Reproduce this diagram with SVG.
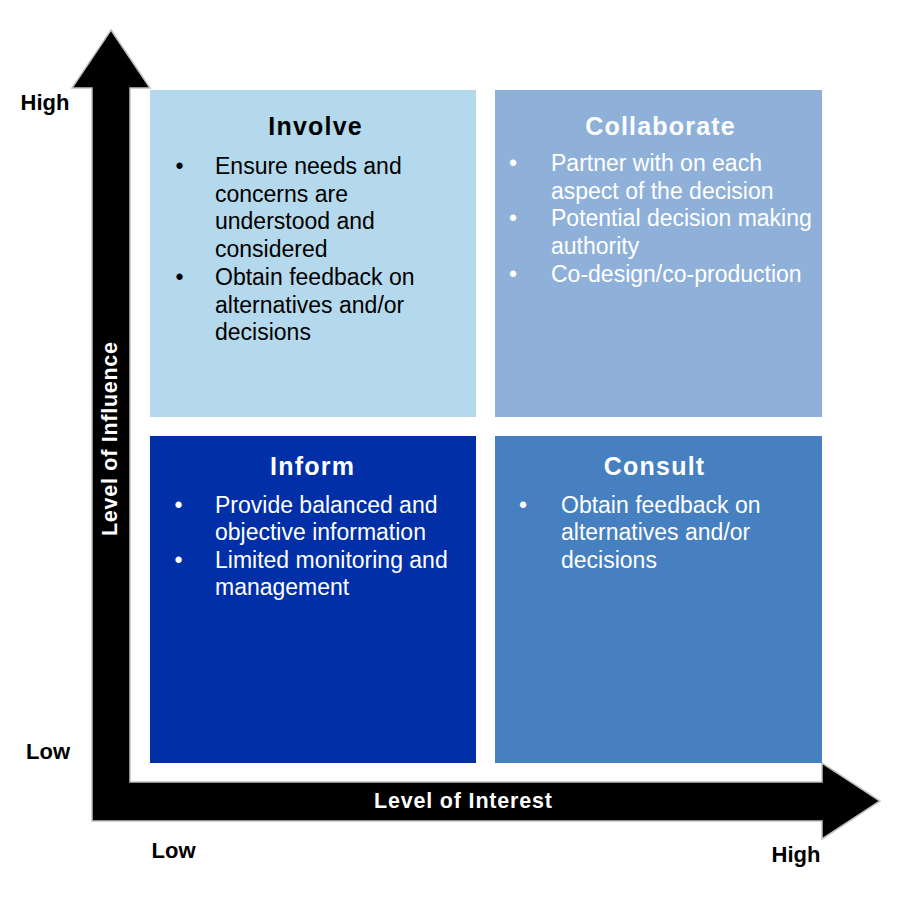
<svg xmlns="http://www.w3.org/2000/svg" width="904" height="897" viewBox="0 0 904 897">
  <style>
    .body { font-family: "Liberation Sans", Arial, sans-serif; font-size: 23px; }
    .title { font-family: "Liberation Sans", Arial, sans-serif; font-size: 25px; font-weight: bold; letter-spacing: 1.2px; text-anchor: middle; }
    .bul { font-family: "Liberation Sans", Arial, sans-serif; font-size: 23px; text-anchor: middle; }
    .axlbl { font-family: "Liberation Sans", Arial, sans-serif; font-size: 22px; font-weight: bold; fill: #000; }
    .axtitle { font-family: "Liberation Sans", Arial, sans-serif; font-size: 21.5px; font-weight: bold; fill: #fff; text-anchor: middle; }
    .dark { fill: #000; }
    .light { fill: #fff; }
  </style>
  <rect x="0" y="0" width="904" height="897" fill="#fff"/>

  <g id="axes">
    <polygon points="111,30 150,88 130,88 130,782 822,782 822,763 880,801 822,839 822,821 92,821 92,88 72,88" fill="#000" stroke="#c0c0c0" stroke-width="1.5" stroke-linejoin="miter"/>
    <text class="axtitle" x="463" y="808" textLength="178" lengthAdjust="spacing">Level of Interest</text>
    <text class="axtitle" transform="translate(117,439) rotate(-90)" x="0" y="0" textLength="194" lengthAdjust="spacing">Level of Influence</text>
    <text class="axlbl" x="20.5" y="110">High</text>
    <text class="axlbl" x="26" y="759">Low</text>
    <text class="axlbl" x="151.5" y="858">Low</text>
    <text class="axlbl" x="771.5" y="861.5">High</text>
  </g>

  <g id="involve">
    <rect x="150" y="90" width="326" height="327" fill="#b4d8ec"/>
    <text class="title dark" x="315.6" y="135">Involve</text>
    <text class="bul dark" x="179.5" y="174">•</text>
    <text class="bul dark" x="179.5" y="284.8">•</text>
    <text class="body dark">
      <tspan x="215" y="174">Ensure needs and</tspan>
      <tspan x="215" y="201.7">concerns are</tspan>
      <tspan x="215" y="229.4">understood and</tspan>
      <tspan x="215" y="257.1">considered</tspan>
      <tspan x="215" y="284.8">Obtain feedback on</tspan>
      <tspan x="215" y="312.5">alternatives and/or</tspan>
      <tspan x="215" y="340.2">decisions</tspan>
    </text>
  </g>

  <g id="collaborate">
    <rect x="495" y="90" width="327" height="327" fill="#8fb1d9"/>
    <text class="title light" x="660.6" y="135">Collaborate</text>
    <text class="bul light" x="513" y="171">•</text>
    <text class="bul light" x="513" y="226.4">•</text>
    <text class="bul light" x="513" y="281.8">•</text>
    <text class="body light">
      <tspan x="551" y="171">Partner with on each</tspan>
      <tspan x="551" y="198.7">aspect of the decision</tspan>
      <tspan x="551" y="226.4">Potential decision making</tspan>
      <tspan x="551" y="254.1">authority</tspan>
      <tspan x="551" y="281.8">Co-design/co-production</tspan>
    </text>
  </g>

  <g id="inform">
    <rect x="150" y="436" width="326" height="327" fill="#002fa7"/>
    <text class="title light" x="312.6" y="474.5">Inform</text>
    <text class="bul light" x="178.5" y="512.5">•</text>
    <text class="bul light" x="178.5" y="567.5">•</text>
    <text class="body light">
      <tspan x="215" y="512.5">Provide balanced and</tspan>
      <tspan x="215" y="540">objective information</tspan>
      <tspan x="215" y="567.5">Limited monitoring and</tspan>
      <tspan x="215" y="595">management</tspan>
    </text>
  </g>

  <g id="consult">
    <rect x="495" y="436" width="327" height="327" fill="#4680c1"/>
    <text class="title light" x="654.6" y="474.5">Consult</text>
    <text class="bul light" x="523" y="512.5">•</text>
    <text class="body light">
      <tspan x="561" y="512.5">Obtain feedback on</tspan>
      <tspan x="561" y="540">alternatives and/or</tspan>
      <tspan x="561" y="567.5">decisions</tspan>
    </text>
  </g>
</svg>
